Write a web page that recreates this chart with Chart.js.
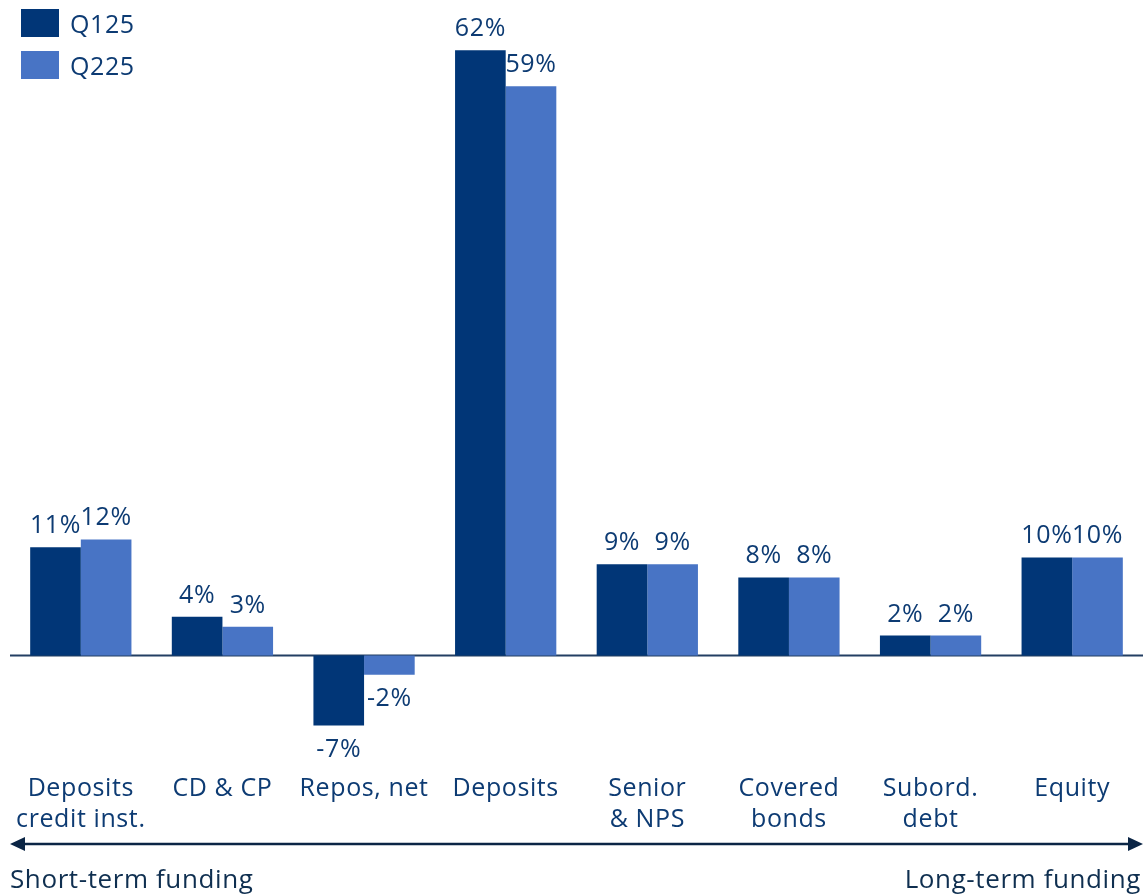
<!DOCTYPE html>
<html>
<head>
<meta charset="utf-8">
<script src="https://cdn.jsdelivr.net/npm/chart.js@4.4.1/dist/chart.umd.min.js"></script>
<style>
  html, body { margin: 0; padding: 0; background: #fff; }
  #wrap { position: relative; width: 1147px; height: 895px; }
  #legend { position: absolute; left: 21px; top: 9px; font-family: 'Open Sans', sans-serif; font-size: 25px; letter-spacing: 0.6px; color: #0d3b73; }
  .item { display: flex; align-items: center; height: 28px; margin-bottom: 14px; }
  .box { width: 38px; height: 28px; margin-right: 11px; }
</style>
</head>
<body>
<div id="wrap">
  <canvas id="chart" width="1147" height="895"></canvas>
  <div id="legend"></div>
</div>
<script>
// data
const categories = [
  ['Deposits', 'credit inst.'],
  'CD & CP',
  'Repos, net',
  'Deposits',
  ['Senior', '& NPS'],
  ['Covered', 'bonds'],
  ['Subord.', 'debt'],
  'Equity'
];
const seriesNames = ['Q125', 'Q225'];
const q125 = [11.15, 3.99, -7.2, 62.3, 9.4, 8.05, 2.06, 10.1];
const q225 = [11.95, 2.96, -1.96, 58.6, 9.4, 8.05, 2.06, 10.1];
const barColors = ['#013677', '#4874c5'];

const textColor = '#0d3b73';
const fontFamily = "'Open Sans', sans-serif";

// slightly wider text, the original face is broad
const spacing = {
  id: 'spacing',
  beforeDraw(chart) { chart.ctx.letterSpacing = '0.6px'; }
};

// value labels on top / below the bars
const valueLabels = {
  id: 'valueLabels',
  afterDatasetsDraw(chart) {
    const ctx = chart.ctx;
    ctx.save();
    ctx.font = '25px ' + fontFamily;
    ctx.fillStyle = textColor;
    ctx.textAlign = 'center';
    ctx.textBaseline = 'alphabetic';
    chart.data.datasets.forEach((ds, i) => {
      chart.getDatasetMeta(i).data.forEach((bar, j) => {
        const v = ds.data[j];
        const txt = Math.round(v) + '%';
        if (v >= 0) ctx.fillText(txt, bar.x, bar.y - 14);
        else ctx.fillText(txt, bar.x, bar.y + 31);
      });
    });
    ctx.restore();
  }
};

// zero line
const zeroLine = {
  id: 'zeroLine',
  beforeDatasetsDraw(chart) {
    const ctx = chart.ctx;
    const y = chart.scales.y.getPixelForValue(0);
    ctx.save();
    ctx.strokeStyle = '#233f63';
    ctx.lineWidth = 2;
    ctx.beginPath();
    ctx.moveTo(chart.chartArea.left, y);
    ctx.lineTo(chart.chartArea.right, y);
    ctx.stroke();
    ctx.restore();
  }
};

// short / long term arrow at the bottom
const fundingArrow = {
  id: 'fundingArrow',
  afterDraw(chart) {
    const ctx = chart.ctx;
    const left = chart.chartArea.left;
    const right = chart.chartArea.right;
    const y = chart.height - 51;
    ctx.save();
    ctx.strokeStyle = '#0b2545';
    ctx.fillStyle = '#0b2545';
    ctx.lineWidth = 2.5;
    ctx.beginPath();
    ctx.moveTo(left + 10, y);
    ctx.lineTo(right - 10, y);
    ctx.stroke();
    ctx.beginPath();
    ctx.moveTo(left, y);
    ctx.lineTo(left + 15, y - 7);
    ctx.lineTo(left + 15, y + 7);
    ctx.closePath();
    ctx.fill();
    ctx.beginPath();
    ctx.moveTo(right, y);
    ctx.lineTo(right - 15, y - 7);
    ctx.lineTo(right - 15, y + 7);
    ctx.closePath();
    ctx.fill();
    ctx.font = '26px ' + fontFamily;
    ctx.fillStyle = '#0f2f50';
    ctx.textBaseline = 'alphabetic';
    ctx.textAlign = 'left';
    ctx.fillText('Short-term funding', left, chart.height - 7);
    ctx.textAlign = 'right';
    ctx.fillText('Long-term funding', right - 2, chart.height - 7);
    ctx.restore();
  }
};

const chart = new Chart(document.getElementById('chart'), {
  type: 'bar',
  data: {
    labels: categories,
    datasets: [
      { label: seriesNames[0], data: q125, backgroundColor: barColors[0] },
      { label: seriesNames[1], data: q225, backgroundColor: barColors[1] }
    ]
  },
  options: {
    responsive: false,
    animation: false,
    layout: { padding: { left: 10, right: 4, top: 24, bottom: 49 } },
    datasets: {
      bar: { categoryPercentage: 0.715, barPercentage: 1.0 }
    },
    scales: {
      x: {
        grid: { display: false, drawTicks: false },
        border: { display: false },
        ticks: {
          color: textColor,
          font: { family: fontFamily, size: 25, lineHeight: 1.27 },
          padding: 10,
          maxRotation: 0,
          autoSkip: false
        }
      },
      y: {
        display: false,
        min: -11,
        max: 65
      }
    },
    plugins: {
      legend: { display: false },
      tooltip: { enabled: false }
    }
  },
  plugins: [spacing, zeroLine, valueLabels, fundingArrow]
});

// html legend
const legend = document.getElementById('legend');
chart.data.datasets.forEach(ds => {
  legend.innerHTML += `<div class="item"><span class="box" style="background:${ds.backgroundColor}"></span>${ds.label}</div>`;
});
</script>
</body>
</html>
